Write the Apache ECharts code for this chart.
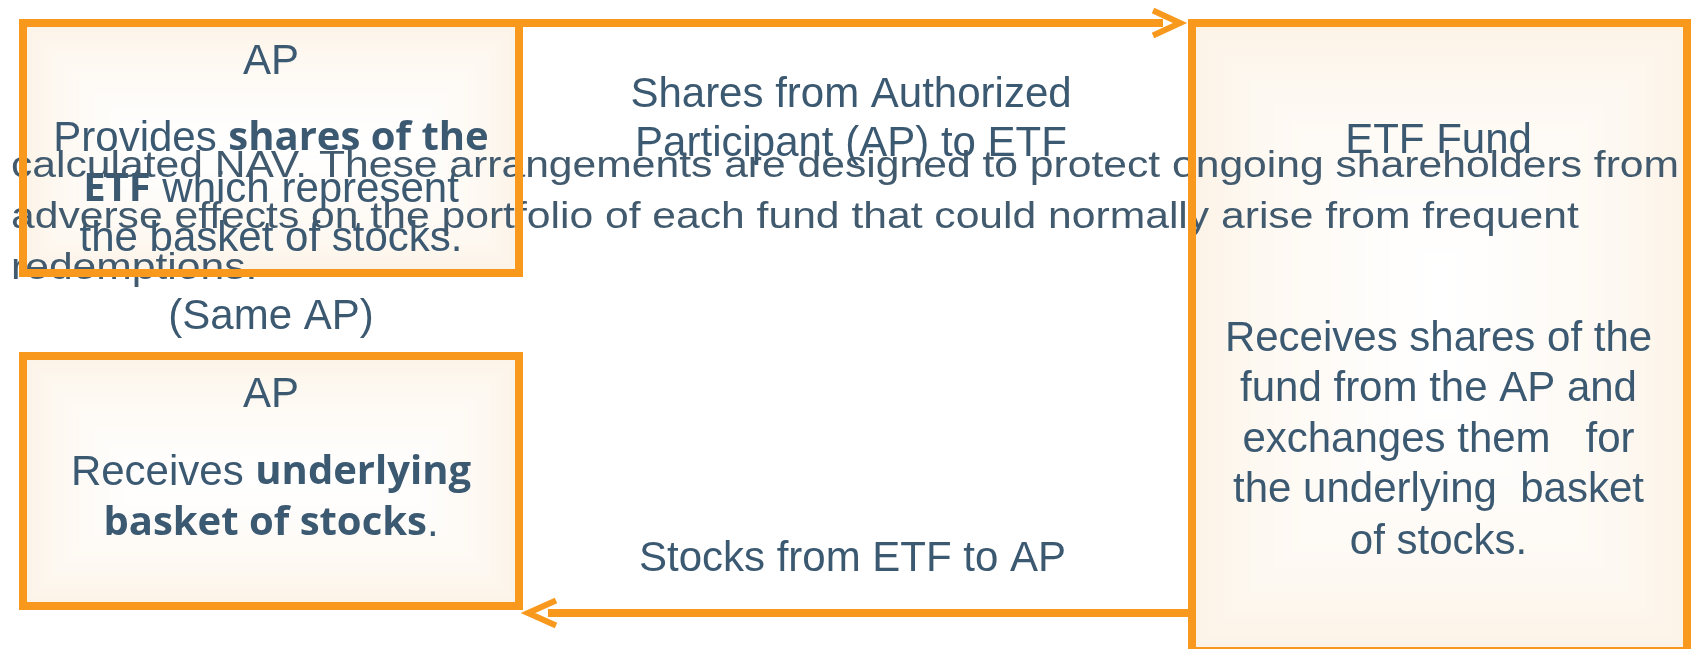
<!DOCTYPE html>
<html>
<head>
<meta charset="utf-8">
<style>
html,body{margin:0;padding:0;background:#ffffff;}
#chart{width:1700px;height:649px;}
</style>
<script src="https://cdn.jsdelivr.net/npm/echarts@6/dist/echarts.min.js"></script>
</head>
<body>
<div id="chart"></div>
<script>
// ---------------- content (text of the diagram) ----------------
const boxTitles = ['AP', 'AP', 'ETF Fund'];
const apProvidesLines = ['{r|Provides }{b|shares of the}', '{b|ETF}{r| which represent}', '{r|the basket of stocks.}'];
const apReceivesLines = ['{r|Receives }{b|underlying}', '{b|basket of stocks}{r|.}'];
const etfLines = ['Receives shares of the', 'fund from the AP and', 'exchanges them   for', 'the underlying  basket', 'of stocks.'];
const sharesFlowLines = ['Shares from Authorized', 'Participant (AP) to ETF'];
const stocksFlowLines = ['Stocks from ETF to AP'];
const sameApLabel = ['(Same AP)'];
const noteLines = [
  'calculated NAV. These arrangements are designed to protect ongoing shareholders from',
  'adverse effects on the portfolio of each fund that could normally arise from frequent',
  'redemptions.'
];

// ---------------- layout (diagram units = axis units) ----------------
const W = 1700, H = 649;
const boxRects = [[23, 23, 519, 273], [23, 356, 519, 606], [1192, 23, 1687, 651]];
const boxCenters = [271, 271, 1438.5];
const titleBaselines = [75, 408, 154.5];
const bodyBaselines = [[152, 203, 252], [486, 537], [352, 402, 453, 503, 555]];
const arrowShafts = [[[519, 23], [1163, 23]], [[1192, 613], [548, 613]]];
const arrowHeads = [[[1153, 10.5], [1180, 23], [1153, 35.5]], [[556, 600.5], [528, 613], [556, 625.5]]];

const ORANGE = '#F8991D';
const TEXT = '#3C5972';
const NOTE = '#415A6E';
const SANS = 'Liberation Sans, Arial, sans-serif';
const BOLD = 'Open Sans, Noto Sans, sans-serif';
const FS = 42;
const MID = 0.31; // baseline offset (em) for vertical middle

const rich = {
  r: { fontSize: FS, fontFamily: SANS, fill: TEXT },
  b: { fontSize: 40, fontFamily: BOLD, fontWeight: 'bold', fill: TEXT }
};

// ---------------- build text items ----------------
const textItems = [];
function addCentered(x, baseline, text, useRich) {
  textItems.push({ x: x, y: baseline - MID * FS, text: text, align: 'center', size: FS, family: SANS, color: TEXT, rich: useRich ? rich : null, sx: 1 });
}
boxTitles.forEach((t, i) => addCentered(boxCenters[i], titleBaselines[i], t, false));
apProvidesLines.forEach((t, i) => addCentered(boxCenters[0], bodyBaselines[0][i], t, true));
apReceivesLines.forEach((t, i) => addCentered(boxCenters[1], bodyBaselines[1][i], t, true));
etfLines.forEach((t, i) => addCentered(boxCenters[2], bodyBaselines[2][i], t, false));
const sharesBase = [108, 157];
sharesFlowLines.forEach((t, i) => addCentered(851, sharesBase[i], t, false));
stocksFlowLines.forEach((t) => addCentered(852.5, 572.5, t, false));
sameApLabel.forEach((t) => addCentered(271, 330, t, false));
const noteBase = [178, 229.5, 280];
const NOTE_FS = 37;
noteLines.forEach((t, i) => {
  textItems.push({ x: 11, y: noteBase[i] - MID * NOTE_FS, text: t, align: 'left', size: NOTE_FS, family: SANS, color: NOTE, rich: null, sx: 1.152 });
});

// ---------------- helpers ----------------
function mix(a, b, t) {
  return 'rgb(' + a.map((v, k) => Math.round(v + (b[k] - v) * t)).join(',') + ')';
}
const EDGE = [252, 242, 229];
const CENTER = [255, 255, 255];

const chart = echarts.init(document.getElementById('chart'), null, { renderer: 'canvas' });
chart.setOption({
  animation: false,
  backgroundColor: '#ffffff',
  grid: { left: 0, right: 0, top: 0, bottom: 0, containLabel: false },
  xAxis: { type: 'value', min: 0, max: W, show: false },
  yAxis: { type: 'value', min: 0, max: H, inverse: true, show: false },
  series: [
    { // box fills (rectangular gradient)
      type: 'custom', z: 1, silent: true,
      data: boxRects,
      renderItem: function (params, api) {
        const p0 = api.coord([api.value(0), api.value(1)]);
        const p1 = api.coord([api.value(2), api.value(3)]);
        const w = p1[0] - p0[0], h = p1[1] - p0[1];
        const half = Math.min(w, h) / 2;
        const N = 30;
        const children = [];
        for (let k = 0; k < N; k++) {
          const inset = half * k / N;
          const t = Math.pow(k / (N - 1), 0.6);
          children.push({
            type: 'rect',
            shape: { x: p0[0] + inset, y: p0[1] + inset, width: w - 2 * inset, height: h - 2 * inset },
            style: { fill: mix(EDGE, CENTER, t) }
          });
        }
        return { type: 'group', children: children };
      }
    },
    { // texts
      type: 'custom', z: 2, silent: true,
      data: textItems.map(t => [t.x, t.y]),
      renderItem: function (params, api) {
        const t = textItems[params.dataIndex];
        const p = api.coord([api.value(0), api.value(1)]);
        const style = {
          text: t.text, x: 0, y: 0, align: t.align, verticalAlign: 'middle',
          fill: t.color, fontSize: t.size, fontFamily: t.family
        };
        if (t.rich) style.rich = t.rich;
        return { type: 'text', x: p[0], y: p[1], scaleX: t.sx, scaleY: 1, style: style };
      }
    },
    { // box borders
      type: 'custom', z: 3, silent: true,
      data: boxRects,
      renderItem: function (params, api) {
        const p0 = api.coord([api.value(0), api.value(1)]);
        const p1 = api.coord([api.value(2), api.value(3)]);
        return {
          type: 'rect',
          shape: { x: p0[0], y: p0[1], width: p1[0] - p0[0], height: p1[1] - p0[1] },
          style: { fill: 'none', stroke: ORANGE, lineWidth: 8, lineJoin: 'miter' }
        };
      }
    },
    { // arrows
      type: 'custom', z: 4, silent: true,
      data: arrowShafts.map((s, i) => [i, 0]),
      renderItem: function (params, api) {
        const i = params.dataIndex;
        const shaft = arrowShafts[i].map(p => api.coord(p));
        const head = arrowHeads[i].map(p => api.coord(p));
        return {
          type: 'group', children: [
            { type: 'polyline', shape: { points: shaft }, style: { stroke: ORANGE, lineWidth: 8, fill: 'none', lineCap: 'butt' } },
            { type: 'polyline', shape: { points: head }, style: { stroke: ORANGE, lineWidth: 6, fill: 'none', lineJoin: 'miter', lineCap: 'butt' } }
          ]
        };
      }
    }
  ]
});
</script>
</body>
</html>
